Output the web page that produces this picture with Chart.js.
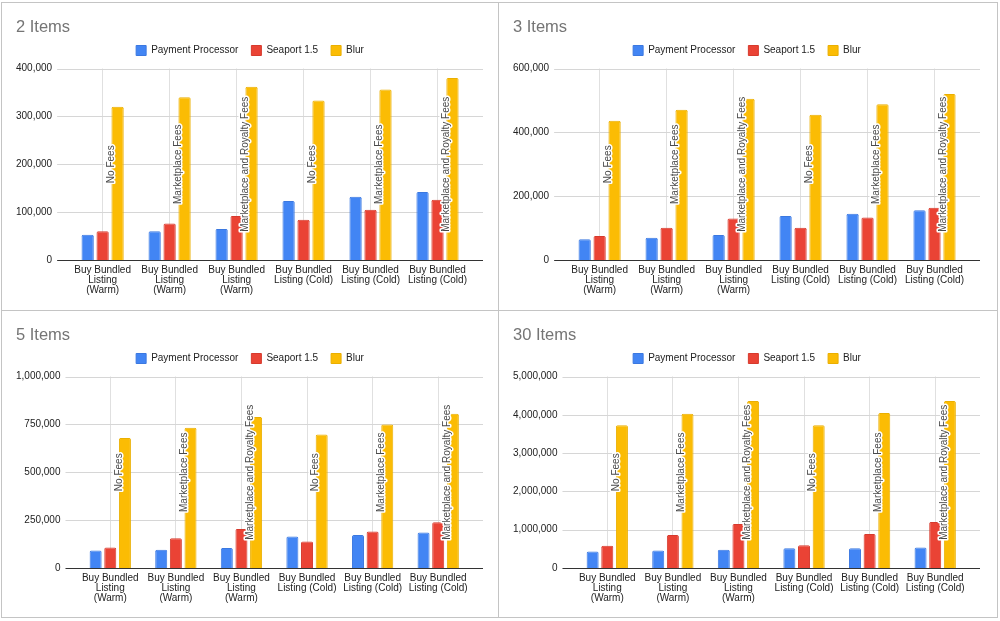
<!DOCTYPE html>
<html>
<head>
<meta charset="utf-8">
<script src="https://cdn.jsdelivr.net/npm/chart.js@4.4.1/dist/chart.umd.min.js"></script>
<style>
  body { margin: 0; background: #fff; width: 1000px; height: 621px; overflow: hidden; position: relative; }
  .panel { position: absolute; width: 496px; height: 306px; }
  .line { position: absolute; background: #c4c4c4; }
</style>
</head>
<body>
<!-- cell borders round the four charts -->
<div class="line" style="left:1px;top:2px;width:997px;height:1px"></div>
<div class="line" style="left:1px;top:310px;width:997px;height:1px"></div>
<div class="line" style="left:1px;top:617px;width:997px;height:1px"></div>
<div class="line" style="left:1px;top:2px;width:1px;height:616px"></div>
<div class="line" style="left:498px;top:2px;width:1px;height:616px"></div>
<div class="line" style="left:997px;top:2px;width:1px;height:616px"></div>

<div class="panel" style="left:2px;top:3px"><canvas id="chart2" width="496" height="306"></canvas></div>
<div class="panel" style="left:499px;top:3px"><canvas id="chart3" width="496" height="306"></canvas></div>
<div class="panel" style="left:2px;top:311px"><canvas id="chart5" width="496" height="306"></canvas></div>
<div class="panel" style="left:499px;top:311px"><canvas id="chart30" width="496" height="306"></canvas></div>

<script>
// Categories and labels shared by the four charts
const categories = [
    ['Buy Bundled', 'Listing', '(Warm)'],
    ['Buy Bundled', 'Listing', '(Warm)'],
    ['Buy Bundled', 'Listing', '(Warm)'],
    ['Buy Bundled', 'Listing (Cold)'],
    ['Buy Bundled', 'Listing (Cold)'],
    ['Buy Bundled', 'Listing (Cold)']
];
const feeLabels = ['No Fees', 'Marketplace Fees', 'Marketplace and Royalty Fees',
                   'No Fees', 'Marketplace Fees', 'Marketplace and Royalty Fees'];
const seriesNames = ['Payment Processor', 'Seaport 1.5', 'Blur'];
const seriesColors = ['#4285f4', '#ea4335', '#fbbc04'];
const seriesBorders = ['#3b78e0', '#d63a2d', '#eaaf00'];

// 2 Items
const pp2 = [53000, 60000, 65000, 123000, 132000, 142000];
const seaport2 = [60000, 76000, 92000, 84000, 105000, 126000];
const blur2 = [320000, 340000, 362000, 333000, 356000, 380000];
const ticks2 = [0, 400000, 100000];

// 3 Items
const pp3 = [65000, 70000, 78000, 138000, 145000, 156000];
const seaport3 = [75000, 101000, 130000, 101000, 133000, 164000];
const blur3 = [436000, 471000, 505000, 455000, 488000, 520000];
const ticks3 = [0, 600000, 200000];

// 5 Items
const pp5 = [91000, 95000, 104000, 165000, 172000, 186000];
const seaport5 = [107000, 156000, 204000, 139000, 191000, 239000];
const blur5 = [679000, 732000, 788000, 697000, 749000, 805000];
const ticks5 = [0, 1000000, 250000];

// 30 Items
const pp30 = [430000, 456000, 474000, 518000, 518000, 535000];
const seaport30 = [579000, 860000, 1149000, 596000, 886000, 1202000];
const blur30 = [3728000, 4026000, 4360000, 3728000, 4044000, 4360000];
const ticks30 = [0, 5000000, 1000000];

const fontFamily = '"Liberation Sans", Arial, Helvetica, sans-serif';

// Un poco de aire bajo la leyenda
const legendMargin = {
    id: 'legendMargin',
    beforeInit(chart) {
        const fitValue = chart.legend.fit;
        chart.legend.fit = function fit() {
            fitValue.bind(chart.legend)();
            this.height += 3;
        };
    }
};

// Lineas horizontales algo mas anchas que el area de barras, como en Sheets
const sheetPlugin = {
    id: 'sheetPlugin',
    beforeDatasetsDraw(chart) {
        const {ctx, chartArea, scales: {y}} = chart;
        ctx.save();
        ctx.strokeStyle = '#d6d6d6';
        ctx.lineWidth = 1;
        y.ticks.forEach(t => {
            if (t.value === 0) return;
            const py = Math.round(y.getPixelForValue(t.value)) + 0.5;
            ctx.beginPath();
            ctx.moveTo(chartArea.left - 12, py);
            ctx.lineTo(chartArea.right + 12, py);
            ctx.stroke();
        });
        ctx.restore();
    },
    afterDatasetsDraw(chart) {
        const {ctx, chartArea, scales: {y}} = chart;
        ctx.save();
        // eje en cero
        const py0 = Math.round(y.getPixelForValue(0)) + 0.5;
        ctx.strokeStyle = '#333';
        ctx.lineWidth = 1;
        ctx.beginPath();
        ctx.moveTo(chartArea.left - 12, py0);
        ctx.lineTo(chartArea.right + 12, py0);
        ctx.stroke();
        // etiquetas de comisiones, giradas, junto a la barra de Blur
        const meta = chart.getDatasetMeta(2);
        const yMid = (chartArea.top + chartArea.bottom) / 2;
        ctx.font = '10px ' + fontFamily;
        ctx.textAlign = 'center';
        ctx.textBaseline = 'middle';
        ctx.lineJoin = 'round';
        meta.data.forEach((bar, i) => {
            const px = bar.x - bar.width / 2;
            ctx.save();
            ctx.translate(px, yMid);
            ctx.rotate(-Math.PI / 2);
            ctx.lineWidth = 3;
            ctx.strokeStyle = '#fff';
            ctx.strokeText(feeLabels[i], 0, 0);
            ctx.fillStyle = '#4a4a4a';
            ctx.fillText(feeLabels[i], 0, 0);
            ctx.restore();
        });
        ctx.restore();
    }
};

function drawItemsChart(canvasId, title, pp, seaport, blur, ticks) {
    const series = [pp, seaport, blur];
    const data = {
        labels: categories,
        datasets: series.map((values, i) => ({
            label: seriesNames[i],
            data: values,
            backgroundColor: seriesColors[i],
            borderColor: seriesBorders[i],
            borderWidth: 1,
            borderSkipped: 'bottom',
            borderRadius: 1.5,
            categoryPercentage: 0.67,
            barPercentage: 0.82
        }))
    };

    const options = {
        responsive: false,
        animation: false,
        layout: {
            padding: { left: 14, right: 14, top: 0, bottom: 9 }
        },
        plugins: {
            title: {
                display: true,
                text: title,
                align: 'start',
                color: '#757575',
                font: { size: 16.5, weight: 'normal', family: fontFamily, lineHeight: 1 },
                padding: { top: 16, bottom: -3 }
            },
            legend: {
                display: true,
                position: 'top',
                labels: {
                    color: '#222',
                    boxWidth: 10,
                    boxHeight: 10,
                    padding: 13,
                    font: { size: 10, family: fontFamily }
                }
            },
            tooltip: { enabled: false }
        },
        scales: {
            x: {
                offset: true,
                grid: { offset: false, color: '#e0e0e0', drawTicks: false },
                border: { display: false },
                ticks: {
                    color: '#222',
                    padding: 5,
                    maxRotation: 0,
                    autoSkip: false,
                    font: { size: 10, family: fontFamily, lineHeight: 1 }
                }
            },
            y: {
                min: ticks[0],
                max: ticks[1],
                grid: { display: false, drawTicks: false },
                border: { display: false },
                afterFit: scale => { scale.width -= scale.options.ticks.padding; },
                ticks: {
                    stepSize: ticks[2],
                    color: '#222',
                    padding: 17,
                    font: { size: 10, family: fontFamily },
                    callback: v => v.toLocaleString('en-US')
                }
            },
            // eje vacio a la derecha, solo para dejar margen
            yRight: {
                type: 'linear',
                position: 'right',
                grid: { display: false, drawTicks: false },
                border: { display: false },
                ticks: { display: false },
                afterFit: scale => { scale.width = 13; }
            }
        }
    };
    new Chart(canvasId, { type: 'bar', data, options, plugins: [legendMargin, sheetPlugin] });
}

drawItemsChart('chart2', '2 Items', pp2, seaport2, blur2, ticks2);
drawItemsChart('chart3', '3 Items', pp3, seaport3, blur3, ticks3);
drawItemsChart('chart5', '5 Items', pp5, seaport5, blur5, ticks5);
drawItemsChart('chart30', '30 Items', pp30, seaport30, blur30, ticks30);
</script>
</body>
</html>
